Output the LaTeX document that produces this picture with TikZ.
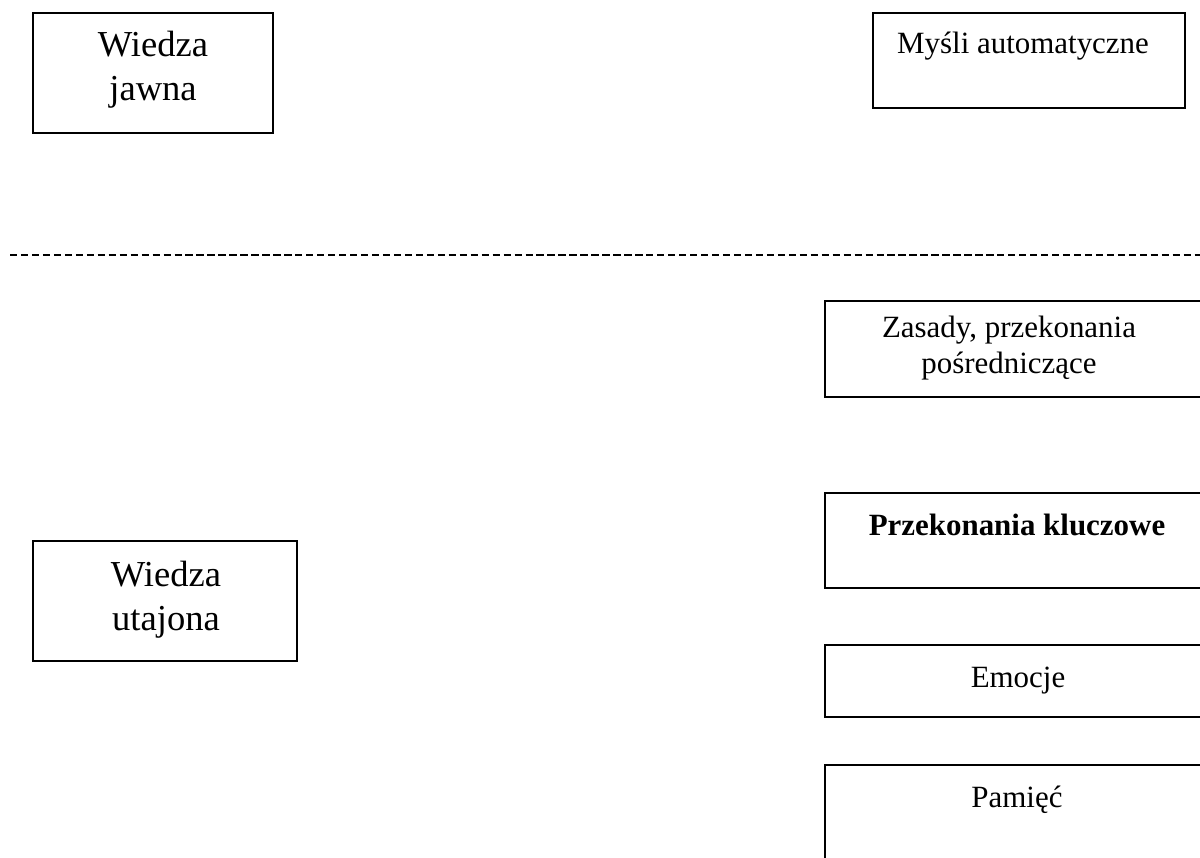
\documentclass[tikz,border=0pt]{standalone}
\usepackage{fontspec}
\setmainfont{Liberation Serif}

\begin{document}
\begin{tikzpicture}[x=0.025cm,y=-0.025cm]
\tikzset{box/.style={draw, line width=1.3pt, inner sep=0pt},
  bigtext/.style={font=\fontsize{26}{31}\selectfont, align=center, anchor=base, inner sep=0pt},
  smalltext/.style={font=\fontsize{22}{25}\selectfont, align=center, anchor=base, inner sep=0pt}}
\useasboundingbox (0,0) rectangle (1200,857);
\clip (0,0) rectangle (1200,857);
% Draw the boxes -- left side
\node[box, minimum width=6cm, minimum height=3cm] (jawna) at (153,73) {};
\node[box, minimum width=6.6cm, minimum height=3cm] (utajona) at (165,601) {};
% Draw the boxes -- right side
\node[box, minimum width=7.8cm, minimum height=2.375cm] (mysli) at (1029,60.5) {};
\node[box, minimum width=9.625cm, minimum height=2.4cm] (zasady) at (1017.5,349) {};
\node[box, minimum width=9.625cm, minimum height=2.375cm] (kluczowe) at (1017.5,540.5) {};
\node[box, minimum width=9.625cm, minimum height=1.8cm] (emocje) at (1017.5,681) {};
\node[box, minimum width=9.625cm, minimum height=2.875cm] (pamiec) at (1017.5,822.5) {};
% the texts (base = last line)
\node[bigtext] (jawnatxt) at (153,100) {Wiedza\\jawna};
\node[bigtext] (utajonatxt) at (166,630) {Wiedza\\utajona};
\node[smalltext] (myslitxt) at (1023,53) {Myśli automatyczne};
\node[smalltext] (zasadytxt) at (1009,373) {Zasady, przekonania\\pośredniczące};
\node[smalltext, font=\fontsize{22}{25}\selectfont\bfseries] (kluczowetxt) at (1017,535) {Przekonania kluczowe};
\node[smalltext] (emocjetxt) at (1018,687) {Emocje};
\node[smalltext] (pamiectxt) at (1017,807) {Pamięć};
% the dashed line
\coordinate (lineleft) at (10,255);
\coordinate (lineright) at (1200,255);
\draw[line width=2pt, dash pattern=on 5.2pt off 2.6pt] (lineleft) -- (lineright);
\end{tikzpicture}
\end{document}
